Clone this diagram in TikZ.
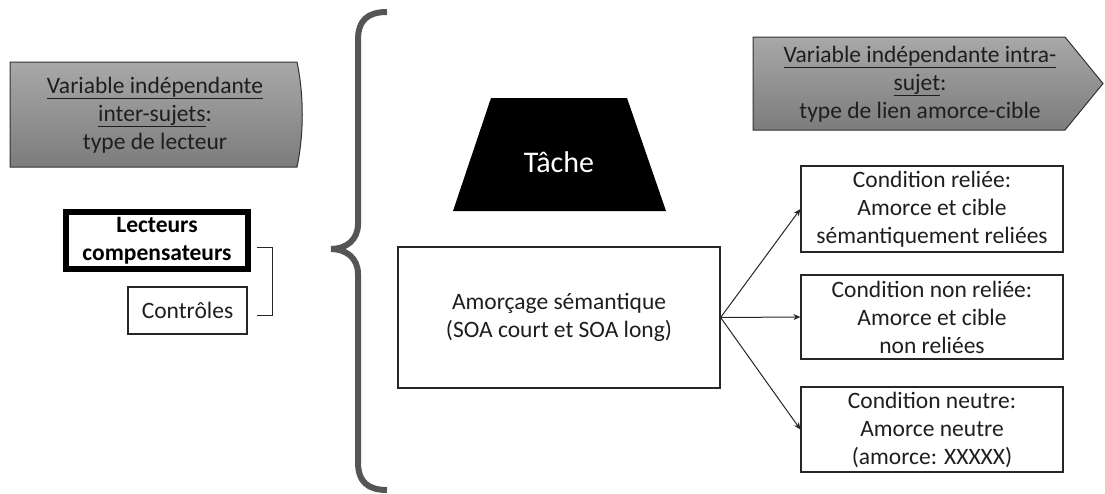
\documentclass[tikz,border=0pt]{standalone}
\usepackage{fontspec}
\setmainfont{Carlito}
\usetikzlibrary{arrows.meta}
\definecolor{braceGray}{HTML}{555555}
\definecolor{shTop}{HTML}{A8A8A8}
\definecolor{shBot}{HTML}{7C7C7C}
\definecolor{inkDark}{HTML}{1E1E1E}
\tikzset{
  txt/.style={font=\fontsize{23.5}{28}\selectfont, align=center, text=inkDark, inner sep=0pt},
  cbox/.style={draw=black!85, line width=1.2pt, inner sep=0pt, txt},
  link/.style={draw=black!85, line width=1pt, -{Stealth[length=7pt,width=6pt]}},
  banner/.style={draw=black!80, line width=1pt, top color=shTop, bottom color=shBot},
}
\begin{document}
\begin{tikzpicture}[x=1pt, y=-1pt]
  \useasboundingbox (0,0) rectangle (1105,493);

  % left banner: between-subjects variable
  \path[banner] (10,62) -- (297,62) .. controls (304,95) and (304,134) .. (297,167) -- (10,167) -- cycle;
  \node[txt] (vinter) at (155,115) {\underline{Variable indépendante}\\ \underline{inter-sujets}:\\ type de lecteur};

  % reader groups
  \node[draw=black, line width=6pt, minimum width=182pt, minimum height=57pt, inner sep=0pt,
        txt, font=\bfseries\fontsize{23.5}{28}\selectfont, text=black] (lect) at (157,240.5) {Lecteurs\\compensateurs};
  \node[cbox, minimum width=119pt, minimum height=47pt] (ctrl) at (187.5,310.5) {Contrôles};
  \coordinate (bktA) at (257,247);
  \coordinate (bktB) at (257,315);
  \draw[black!85, line width=1pt] (bktA) -- (272,247) -- (272,315) -- (bktB);

  % large brace
  \draw[braceGray, line width=6pt]
    (387,12) .. controls (368,12) and (358,20) .. (358,40) -- (358,224)
    .. controls (358,240) and (346,249) .. (331,249)
    .. controls (346,249) and (358,258) .. (358,274) -- (358,462)
    .. controls (358,482) and (368,490) .. (387,490);

  % task trapezoid
  \fill[black] (491,98) -- (627,98) -- (666,211) -- (453,211) -- cycle;
  \node[txt, text=white, font=\fontsize{30}{36}\selectfont] (tache) at (559,162) {Tâche};

  % priming box
  \node[cbox, minimum width=322pt, minimum height=141pt] (amorc) at (559,317.5)
    {Amorçage sémantique\\(SOA court et SOA long)};

  % right banner: within-subject variable
  \path[banner] (753,37) -- (1065,37) -- (1103,83.5) -- (1065,130) -- (753,130) -- cycle;
  \node[txt] (vintra) at (920,84) {\underline{Variable indépendante intra-}\\ \underline{sujet}:\\ type de lien amorce-cible};

  % conditions
  \node[cbox, minimum width=262pt, minimum height=86pt] (crel) at (932,209)
    {Condition reliée:\\Amorce et cible\\sémantiquement reliées};
  \node[cbox, minimum width=262pt, minimum height=84pt] (cnon) at (932,317)
    {Condition non reliée:\\Amorce et cible\\non reliées};
  \node[cbox, minimum width=262pt, minimum height=85pt] (cneu) at (932,429.5)
    {Condition neutre:\\Amorce neutre\\(amorce: XXXXX)};

  \draw[link] (amorc.east) -- (crel.west);
  \draw[link] (amorc.east) -- (cnon.west);
  \draw[link] (amorc.east) -- (cneu.west);
\end{tikzpicture}
\end{document}
